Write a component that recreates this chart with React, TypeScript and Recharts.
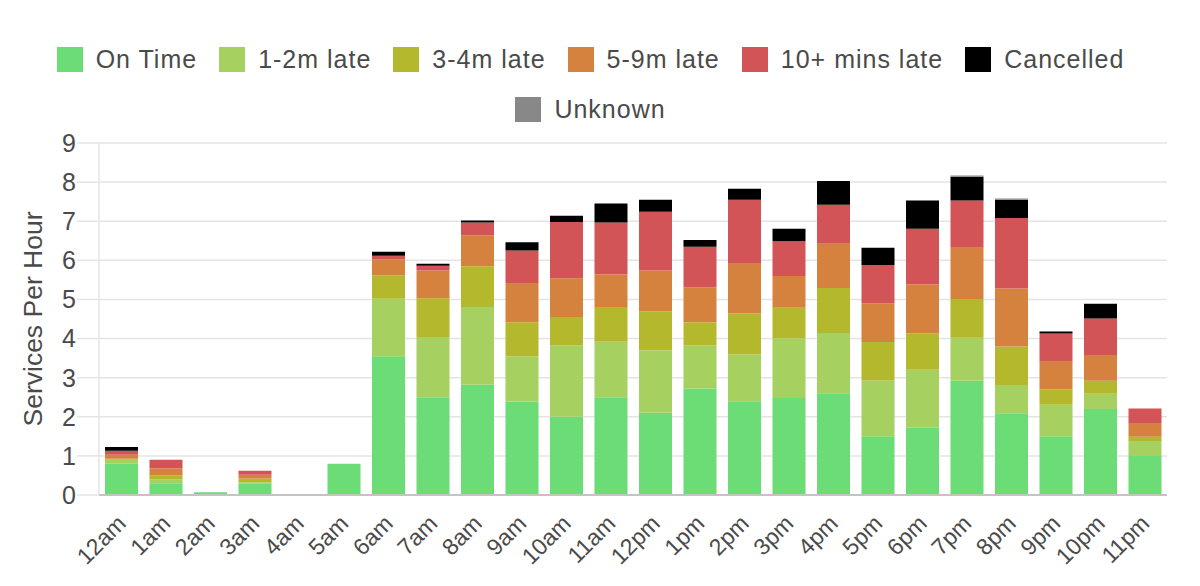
import { Bar, BarChart, CartesianGrid, Legend, XAxis, YAxis } from "recharts";

const hours = [
  "12am", "1am", "2am", "3am", "4am", "5am", "6am", "7am", "8am", "9am", "10am", "11am",
  "12pm", "1pm", "2pm", "3pm", "4pm", "5pm", "6pm", "7pm", "8pm", "9pm", "10pm", "11pm",
];

const onTime = [0.8, 0.3, 0.07, 0.3, 0, 0.8, 3.55, 2.5, 2.82, 2.39, 2.0, 2.5, 2.1, 2.72, 2.4, 2.48, 2.6, 1.5, 1.72, 2.92, 2.09, 1.5, 2.2, 1.0];
const late1to2 = [0.1, 0.1, 0, 0.02, 0, 0, 1.47, 1.54, 1.99, 1.15, 1.83, 1.42, 1.6, 1.1, 1.2, 1.53, 1.54, 1.43, 1.48, 1.1, 0.72, 0.81, 0.39, 0.38];
const late3to4 = [0.03, 0.1, 0, 0.1, 0, 0, 0.6, 0.99, 1.04, 0.88, 0.72, 0.89, 1.0, 0.6, 1.04, 0.78, 1.15, 0.98, 0.93, 0.99, 0.99, 0.39, 0.33, 0.11];
const late5to9 = [0.1, 0.18, 0, 0.1, 0, 0, 0.4, 0.71, 0.79, 1.0, 0.99, 0.83, 1.04, 0.89, 1.27, 0.81, 1.15, 0.99, 1.25, 1.31, 1.48, 0.71, 0.66, 0.33];
const late10plus = [0.1, 0.22, 0, 0.1, 0, 0, 0.1, 0.12, 0.33, 0.83, 1.44, 1.33, 1.5, 1.04, 1.64, 0.89, 0.98, 0.98, 1.43, 1.21, 1.8, 0.72, 0.93, 0.39];
const cancelled = [0.1, 0, 0, 0, 0, 0, 0.1, 0.05, 0.05, 0.21, 0.16, 0.48, 0.31, 0.17, 0.28, 0.32, 0.61, 0.44, 0.72, 0.61, 0.47, 0.05, 0.38, 0];
const unknown = [0, 0, 0, 0, 0, 0, 0, 0, 0, 0, 0, 0, 0, 0, 0, 0, 0, 0, 0, 0.03, 0.03, 0, 0, 0];

const yTicks = [0, 1, 2, 3, 4, 5, 6, 7, 8, 9];

const series = [
  { key: "onTime", name: "On Time", color: "#6bdc76" },
  { key: "late1to2", name: "1-2m late", color: "#a6d060" },
  { key: "late3to4", name: "3-4m late", color: "#b4b82c" },
  { key: "late5to9", name: "5-9m late", color: "#d5823e" },
  { key: "late10plus", name: "10+ mins late", color: "#d35456" },
  { key: "cancelled", name: "Cancelled", color: "#000000" },
  { key: "unknown", name: "Unknown", color: "#888888" },
];

const data = hours.map((hour, i) => ({
  hour,
  onTime: onTime[i],
  late1to2: late1to2[i],
  late3to4: late3to4[i],
  late5to9: late5to9[i],
  late10plus: late10plus[i],
  cancelled: cancelled[i],
  unknown: unknown[i],
}));

const font = "'Liberation Sans', Arial, sans-serif";
const textColor = "#4a4a4a";

function LegendBox() {
  return (
    <div
      style={{
        height: 108,
        width: 1181,
        paddingTop: 12,
        display: "flex",
        flexWrap: "wrap",
        justifyContent: "center",
        alignContent: "flex-start",
        rowGap: 25,
        boxSizing: "border-box",
        fontFamily: font,
        fontSize: 25,
        letterSpacing: 1,
        color: textColor,
      }}
    >
      {series.map((s) => (
        <div key={s.key} style={{ display: "flex", alignItems: "center", margin: "0 11px", height: 25 }}>
          <span style={{ width: 26, height: 25, background: s.color, marginRight: 13, display: "inline-block" }} />
          <span>{s.name}</span>
        </div>
      ))}
    </div>
  );
}

function HourTick({ x, y, payload }: any) {
  const tx = x + 6;
  const ty = y + 22;
  return (
    <text
      x={tx}
      y={ty}
      textAnchor="end"
      fill={textColor}
      fontSize={23}
      fontFamily={font}
      transform={`rotate(-45 ${tx} ${ty})`}
    >
      {payload.value}
    </text>
  );
}

export default function App() {
  return (
    <div style={{ position: "absolute", left: 0, top: 0, background: "#fff" }}>
      <BarChart
        width={1200}
        height={586}
        data={data}
        margin={{ top: 35, right: 33, left: 0, bottom: 0 }}
        barCategoryGap={6}
      >
        <Legend verticalAlign="top" align="left" content={() => <LegendBox />} wrapperStyle={{ left: 0, top: 35 }} />
        <CartesianGrid vertical={false} stroke="#e4e4e4" strokeWidth={1.5} />
        <XAxis
          dataKey="hour"
          interval={0}
          height={91}
          tickLine={false}
          axisLine={{ stroke: "#c4c4c4", strokeWidth: 2 }}
          tick={<HourTick />}
        />
        <YAxis
          width={99}
          domain={[0, 9]}
          ticks={yTicks}
          interval={0}
          tickSize={22}
          tickMargin={1}
          tickLine={{ stroke: "#e4e4e4", strokeWidth: 1.5 }}
          axisLine={{ stroke: "#e4e4e4", strokeWidth: 1.5 }}
          tick={{ fill: textColor, fontSize: 25, fontFamily: font }}
          label={{
            value: "Services Per Hour",
            angle: -90,
            position: "insideLeft",
            offset: 33,
            style: { fill: textColor, fontSize: 26.5, fontFamily: font, textAnchor: "middle" },
          }}
        />
        {series.map((s) => (
          <Bar key={s.key} dataKey={s.key} name={s.name} stackId="a" fill={s.color} isAnimationActive={false} />
        ))}
      </BarChart>
    </div>
  );
}
